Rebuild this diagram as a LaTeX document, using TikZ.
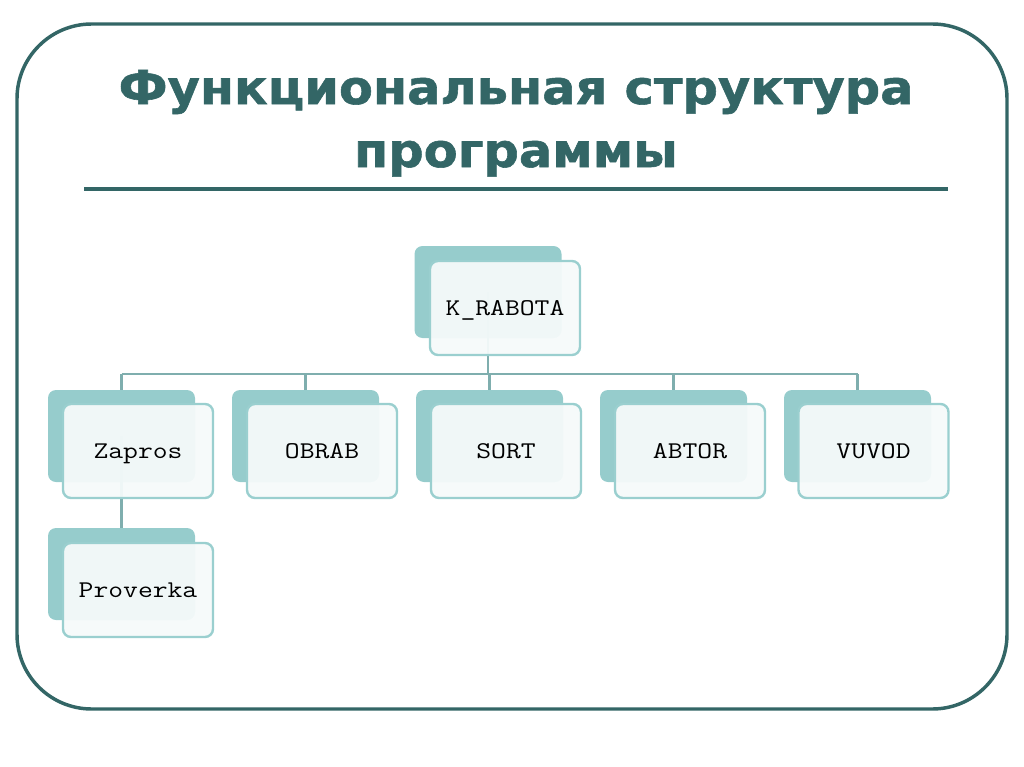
\documentclass[tikz,border=0pt]{standalone}
\usepackage{fontspec}
\setmainfont{DejaVu Sans}
\newfontfamily\titlef{DejaVu Sans Bold}[FakeBold=1.2, FakeStretch=1.06]
\newfontfamily\monof{Latin Modern Mono}[FakeStretch=1.2]
\definecolor{dark}{HTML}{336666}
\definecolor{backc}{HTML}{96CCCC}
\definecolor{edgec}{HTML}{9ACFCF}
\definecolor{frontc}{HTML}{F5FAFA}
\definecolor{conn}{HTML}{7FAEAE}
\tikzset{
  backbox/.style={fill=backc, rounded corners=6pt, minimum width=110.25pt, minimum height=69pt, inner sep=0pt},
  frontbox/.style={draw=edgec, line width=1.8pt, fill=frontc, fill opacity=0.95, text opacity=1, rounded corners=6pt, minimum width=112.5pt, minimum height=70.5pt, inner sep=0pt, text height=11pt, text depth=0pt, font=\monof\fontsize{18}{22}\selectfont},
  link/.style={draw=conn, line width=2.2pt},
  titletext/.style={text=dark, font=\titlef\fontsize{35}{40}\selectfont, anchor=base}
}
\begin{document}
\begin{tikzpicture}[x=0.75pt,y=-0.75pt]
\useasboundingbox (0,0) rectangle (1024,767);
% frame
\draw[dark, line width=2.6pt, rounded corners=56pt] (17,24) rectangle (1007,709);
% title
\node[titletext] (t1) at (516,104) {Функциональная структура};
\node[titletext] (t2) at (516,167) {программы};
\draw[dark, line width=2.4pt] (84,189) -- (948,189);
% back boxes
\node[backbox] (kb) at (488,292) {};
\node[backbox] (zb) at (121.5,436) {};
\node[backbox] (ob) at (305.5,436) {};
\node[backbox] (sb) at (489.5,436) {};
\node[backbox] (ab) at (673.5,436) {};
\node[backbox] (vb) at (857.5,436) {};
\node[backbox] (pb) at (121.5,574) {};
% connectors
\coordinate (bus) at (0,374);
\draw[link] (kb.center) -- (kb.center |- bus);
\draw[link] (zb.north |- bus) -- (vb.north |- bus);
\foreach \n in {zb,ob,sb,ab,vb} \draw[link] (\n.north |- bus) -- (\n.north);
\draw[link] (zb.center) -- (pb.north);
% front boxes
\node[frontbox] (k) at (505,308) {K\_RABOTA};
\node[frontbox] (z) at (138,451) {Zapros};
\node[frontbox] (o) at (322,451) {OBRAB};
\node[frontbox] (s) at (506,451) {SORT};
\node[frontbox] (a) at (690,451) {ABTOR};
\node[frontbox] (v) at (873.5,451) {VUVOD};
\node[frontbox] (p) at (138,590) {Proverka};
\end{tikzpicture}
\end{document}
